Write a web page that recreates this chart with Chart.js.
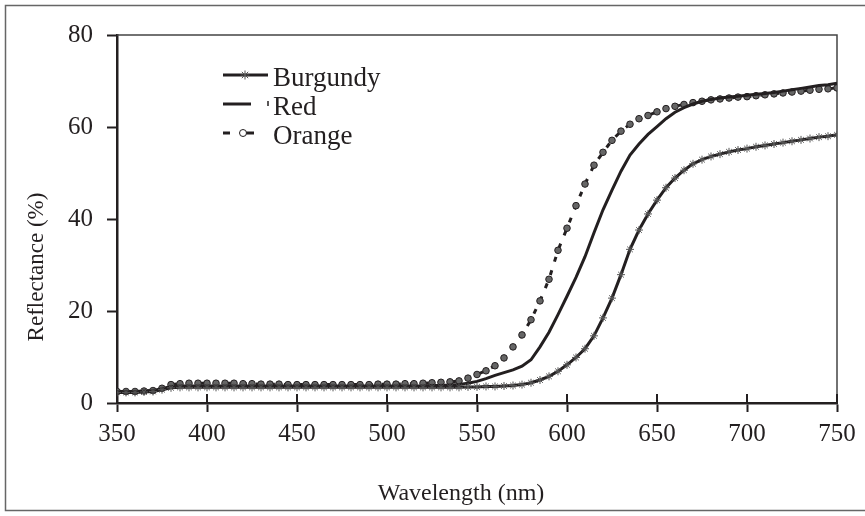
<!DOCTYPE html>
<html>
<head>
<meta charset="utf-8">
<script src="https://cdn.jsdelivr.net/npm/chart.js@4.4.1/dist/chart.umd.min.js"></script>
<style>
  html, body { margin: 0; padding: 0; background: #fff; }
  #wrap { width: 865px; height: 516px; }
</style>
</head>
<body>
<div id="wrap"><canvas id="refl"></canvas></div>
<script>
  const wavelengths = [
    350, 355, 360, 365, 370, 375, 380, 385, 390, 395,
    400, 405, 410, 415, 420, 425, 430, 435, 440, 445,
    450, 455, 460, 465, 470, 475, 480, 485, 490, 495,
    500, 505, 510, 515, 520, 525, 530, 535, 540, 545,
    550, 555, 560, 565, 570, 575, 580, 585, 590, 595,
    600, 605, 610, 615, 620, 625, 630, 635, 640, 645,
    650, 655, 660, 665, 670, 675, 680, 685, 690, 695,
    700, 705, 710, 715, 720, 725, 730, 735, 740, 745,
    750
  ];

  const burgundy = [
    2.3, 2.3, 2.3, 2.4, 2.5, 2.9, 3.3, 3.4, 3.4, 3.4,
    3.4, 3.4, 3.4, 3.4, 3.4, 3.4, 3.4, 3.4, 3.4, 3.4,
    3.4, 3.4, 3.4, 3.4, 3.4, 3.4, 3.4, 3.4, 3.4, 3.4,
    3.4, 3.4, 3.4, 3.4, 3.4, 3.4, 3.4, 3.4, 3.4, 3.5,
    3.5, 3.6, 3.6, 3.7, 3.8, 4.0, 4.4, 5.0, 5.8, 6.9,
    8.3, 9.9, 11.8, 14.6, 18.5, 22.8, 27.9, 33.4, 37.6, 41.1,
    44.1, 46.8, 48.9, 50.6, 52.0, 52.9, 53.6, 54.1, 54.6, 55.0,
    55.3, 55.7, 56.0, 56.3, 56.6, 56.9, 57.2, 57.5, 57.8, 58.0,
    58.3
  ];

  const red = [
    2.5, 2.5, 2.5, 2.6, 2.7, 3.1, 3.6, 3.7, 3.7, 3.7,
    3.7, 3.7, 3.7, 3.7, 3.7, 3.7, 3.7, 3.7, 3.7, 3.7,
    3.7, 3.7, 3.7, 3.7, 3.7, 3.7, 3.7, 3.7, 3.7, 3.7,
    3.7, 3.7, 3.7, 3.7, 3.7, 3.8, 3.8, 3.9, 4.0, 4.3,
    4.7, 5.3, 6.0, 6.6, 7.2, 8.0, 9.4, 12.2, 15.4, 19.2,
    23.2, 27.3, 31.8, 37.0, 42.0, 46.3, 50.4, 53.9, 56.3, 58.4,
    60.1, 61.8, 63.2, 64.2, 65.0, 65.6, 66.0, 66.3, 66.5, 66.7,
    66.9, 67.1, 67.3, 67.5, 67.8, 68.1, 68.4, 68.7, 69.0, 69.2,
    69.5
  ];

  const orange = [
    2.5, 2.5, 2.5, 2.6, 2.7, 3.2, 4.0, 4.2, 4.3, 4.3,
    4.3, 4.3, 4.3, 4.3, 4.2, 4.2, 4.1, 4.1, 4.1, 4.0,
    4.0, 4.0, 4.0, 4.0, 4.0, 4.0, 4.0, 4.0, 4.0, 4.1,
    4.1, 4.1, 4.2, 4.2, 4.3, 4.4, 4.5, 4.6, 4.8, 5.4,
    6.2, 7.0, 8.1, 9.8, 12.2, 14.8, 18.1, 22.2, 26.9, 33.2,
    38.0, 42.9, 47.6, 51.7, 54.5, 57.1, 59.1, 60.6, 61.8, 62.5,
    63.3, 64.0, 64.5, 64.9, 65.3, 65.6, 65.9, 66.1, 66.3, 66.5,
    66.6, 66.8, 67.0, 67.2, 67.4, 67.6, 67.8, 68.0, 68.2, 68.3,
    68.5
  ];

  const xTicks = [350, 400, 450, 500, 550, 600, 650, 700, 750];
  const yTicks = [0, 20, 40, 60, 80];
  const xTitle = "Wavelength (nm)";
  const yTitle = "Reflectance (%)";

  const ink = "#231f20";
  const serif = "'Liberation Serif', 'Times New Roman', serif";

  const points = vals => vals.map((v, i) => ({ x: wavelengths[i], y: v }));

  // frame, inner tick marks, axis titles and the legend box
  const decorations = {
    id: "decorations",
    beforeDraw(chart) {
      const c = chart.ctx;
      c.save();
      c.strokeStyle = "#666";
      c.lineWidth = 1.5;
      c.strokeRect(5.5, 5.5, 870, 505);
      c.restore();
    },
    beforeDatasetsDraw(chart) {
      const c = chart.ctx;
      const a = chart.chartArea;
      const x = chart.scales.x;
      c.save();
      c.strokeStyle = "#444";
      c.lineWidth = 1.5;
      c.beginPath();
      c.moveTo(a.left, a.top);
      c.lineTo(a.right, a.top);
      c.lineTo(a.right, a.bottom);
      c.stroke();
      c.strokeStyle = ink;
      c.lineWidth = 2;
      x.ticks.forEach(t => {
        const px = x.getPixelForValue(t.value);
        c.beginPath();
        c.moveTo(px, a.bottom);
        c.lineTo(px, a.bottom - 9);
        c.stroke();
      });
      c.restore();
    },
    afterDraw(chart) {
      const c = chart.ctx;
      c.save();
      c.fillStyle = ink;
      c.font = "24px " + serif;
      c.textAlign = "center";
      c.textBaseline = "middle";
      c.fillText(xTitle, 461, 494);
      c.font = "23px " + serif;
      c.translate(37, 267);
      c.rotate(-Math.PI / 2);
      c.fillText(yTitle, 0, 0);
      c.restore();

      // legend
      const sets = chart.data.datasets;
      const rows = [75, 104, 133];
      c.save();
      c.strokeStyle = ink;
      c.lineWidth = 3;
      c.beginPath();
      c.moveTo(223, rows[0]);
      c.lineTo(268, rows[0]);
      c.stroke();
      c.lineWidth = 1;
      c.strokeStyle = "#555";
      Chart.helpers.drawPoint(c, { pointStyle: "star", radius: 4.5, borderWidth: 1 }, 245, rows[0]);
      c.strokeStyle = ink;
      c.lineWidth = 3;
      c.beginPath();
      c.moveTo(223, rows[1]);
      c.lineTo(251, rows[1]);
      c.stroke();
      c.lineWidth = 1.5;
      c.beginPath();
      c.moveTo(268, rows[1] - 3);
      c.lineTo(268, rows[1] + 2);
      c.stroke();
      c.lineWidth = 3;
      c.beginPath();
      c.moveTo(223, rows[2]);
      c.lineTo(230, rows[2]);
      c.moveTo(246, rows[2]);
      c.lineTo(254, rows[2]);
      c.stroke();
      c.fillStyle = "#fff";
      c.lineWidth = 1;
      Chart.helpers.drawPoint(c, { pointStyle: "circle", radius: 3.5, borderWidth: 1 }, 243, rows[2]);
      c.fillStyle = ink;
      c.font = "27px " + serif;
      c.textAlign = "left";
      c.textBaseline = "middle";
      sets.forEach((s, i) => c.fillText(s.label, 273, rows[i] + 4));
      c.restore();
    }
  };

  const ctx = document.getElementById("refl").getContext("2d");
  new Chart(ctx, {
    type: "line",
    data: {
      datasets: [{
        label: "Burgundy",
        data: points(burgundy),
        borderColor: ink,
        borderWidth: 3,
        pointStyle: "star",
        pointRadius: 4,
        pointBorderWidth: 1,
        pointBorderColor: "#555",
        pointBackgroundColor: "#555"
      }, {
        label: "Red",
        data: points(red),
        borderColor: ink,
        borderWidth: 3,
        pointRadius: 0
      }, {
        label: "Orange",
        data: points(orange),
        borderColor: ink,
        borderWidth: 3,
        borderDash: [5, 9],
        pointStyle: "circle",
        pointRadius: 3.3,
        pointBorderWidth: 1,
        pointBorderColor: ink,
        pointBackgroundColor: "#666"
      }]
    },
    options: {
      responsive: true,
      maintainAspectRatio: false,
      animation: false,
      layout: { padding: { top: 35, right: 28, left: 0, bottom: 0 } },
      plugins: {
        legend: { display: false },
        tooltip: { enabled: false }
      },
      scales: {
        x: {
          type: "linear",
          min: 350,
          max: 750,
          afterBuildTicks: s => { s.ticks = xTicks.map(v => ({ value: v })); },
          afterFit: s => { s.height = 113; },
          ticks: { color: ink, font: { family: serif, size: 25 }, padding: 7, maxRotation: 0 },
          grid: { drawOnChartArea: false, tickLength: 9, tickWidth: 2, tickColor: ink },
          border: { color: ink, width: 2.5 }
        },
        y: {
          min: 0,
          max: 80,
          afterBuildTicks: s => { s.ticks = yTicks.map(v => ({ value: v })); },
          afterFit: s => { s.width = 117; },
          ticks: { color: ink, font: { family: serif, size: 25 }, padding: 14 },
          grid: { drawOnChartArea: false, tickLength: 10, tickWidth: 2, tickColor: ink },
          border: { color: ink, width: 2.5 }
        }
      }
    },
    plugins: [decorations]
  });
</script>
</body>
</html>
